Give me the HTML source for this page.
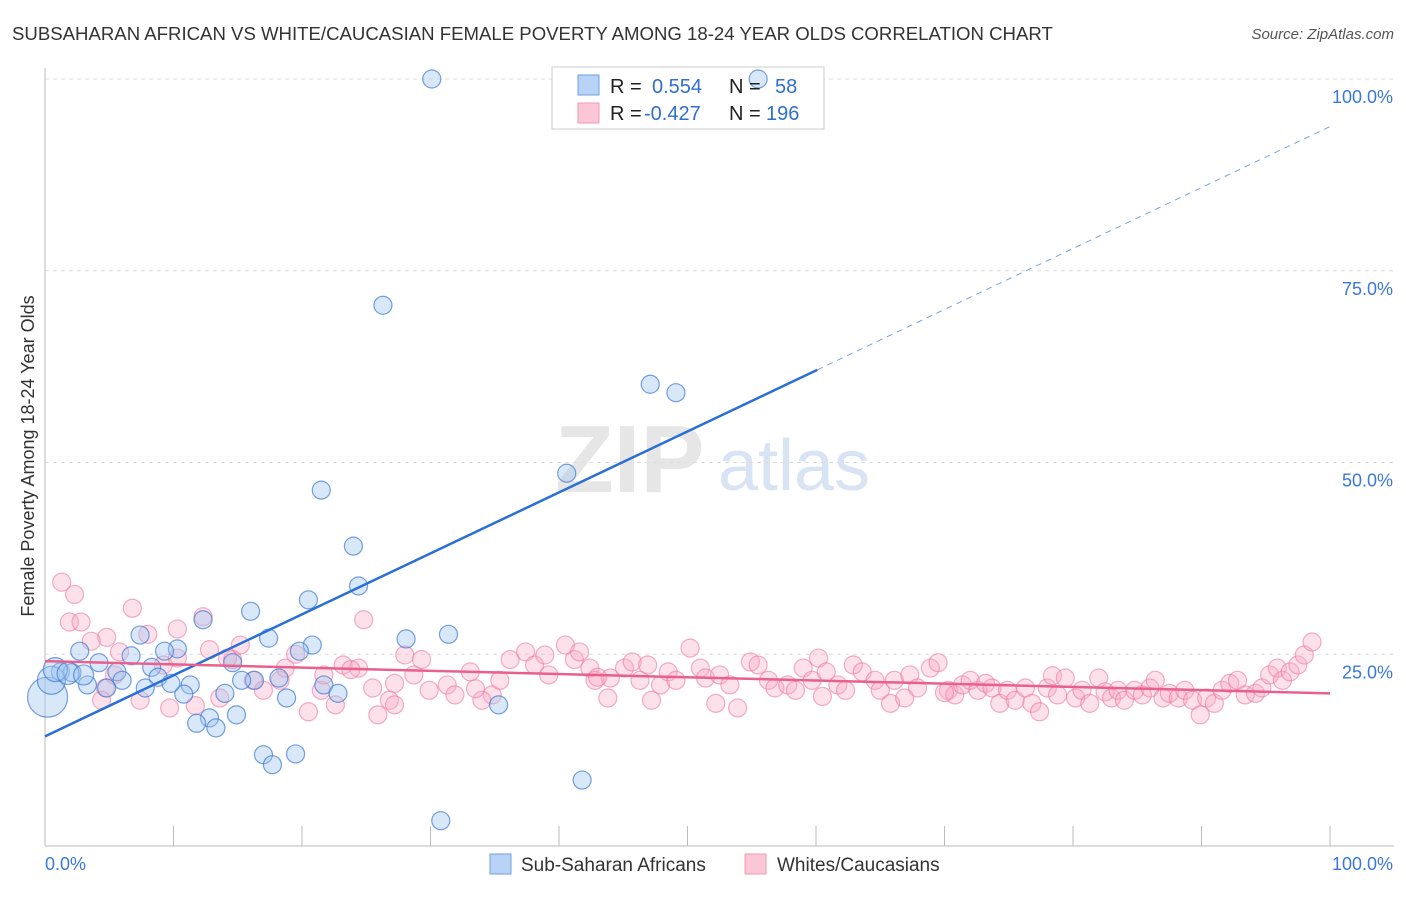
<!DOCTYPE html>
<html><head><meta charset="utf-8"><style>
body{margin:0;background:#fff;font-family:"Liberation Sans",sans-serif}
svg text{font-family:"Liberation Sans",sans-serif}
</style></head><body>
<svg id="chart" width="1406" height="892" viewBox="0 0 1406 892" xmlns="http://www.w3.org/2000/svg">
<text x="12" y="40" font-size="18.6" fill="#333">SUBSAHARAN AFRICAN VS WHITE/CAUCASIAN FEMALE POVERTY AMONG 18-24 YEAR OLDS CORRELATION CHART</text>
<text x="1394" y="39" font-size="15" fill="#555" font-style="italic" text-anchor="end">Source: ZipAtlas.com</text>
<text x="555" y="492" font-size="96" fill="#e6e6e6" font-family="Liberation Serif" font-weight="bold">ZIP</text>
<text x="718" y="490" font-size="72" fill="#d8e4f3">atlas</text>
<g id="grid"></g>
<g id="axes"></g>
<rect x="552" y="67" width="272" height="62" fill="#fff" stroke="#ccc"/>
<g id="pinkpts"></g>
<g id="bluepts"></g>
<g id="lines"></g>
<text transform="translate(34,456) rotate(-90)" font-size="18" fill="#333" text-anchor="middle">Female Poverty Among 18-24 Year Olds</text>
<g>
<rect x="578" y="75" width="21" height="20" fill="#b8d3f5" stroke="#6fa0e0"/>
<rect x="578" y="103" width="21" height="20" fill="#fbc6d6" stroke="#f29ab5"/>
<text x="610" y="93" font-size="20" fill="#222">R =</text>
<text x="652" y="93" font-size="20" fill="#2f6fd0">0.554</text>
<text x="729" y="93" font-size="20" fill="#222">N =</text>
<text x="775" y="93" font-size="20" fill="#2f6fd0">58</text>
<text x="610" y="120" font-size="20" fill="#222">R =</text>
<text x="644" y="120" font-size="20" fill="#2f6fd0">-0.427</text>
<text x="729" y="120" font-size="20" fill="#222">N =</text>
<text x="766" y="120" font-size="20" fill="#2f6fd0">196</text>
</g>
<g>
<rect x="490" y="854" width="21" height="20" fill="#b8d3f5" stroke="#6fa0e0"/>
<text x="521" y="871" font-size="19" fill="#333">Sub-Saharan Africans</text>
<rect x="745" y="854" width="21" height="20" fill="#fbc6d6" stroke="#f29ab5"/>
<text x="777" y="871" font-size="19" fill="#333">Whites/Caucasians</text>
</g>
</svg>
<script>
const yTicks=[25,50,75,100];
const yTickLabels=["25.0%","50.0%","75.0%","100.0%"];
const xTickLabels=["0.0%","100.0%"];
const blueX=[30.1,55.5,26.3,47.1,49.1,40.6,21.5,24.0,24.4,20.5,16.0,12.3,31.4,28.1,20.8,17.4,7.4,10.3,9.3,2.7,6.7,4.2,1.2,2.1,8.3,5.6,14.6,19.8,18.2,16.3,15.3,8.8,6.0,3.3,4.8,7.8,11.3,10.8,14.0,21.7,22.8,18.8,35.3,14.9,12.8,11.8,13.3,17.0,19.5,17.7,41.8,30.8,0.2,0.5,0.8,1.8,3.0,9.8];
const blueY=[100,100,70.5,60.2,59.1,48.6,46.4,39.1,33.9,32.1,30.6,29.5,27.6,27.0,26.2,27.1,27.5,25.7,25.4,25.4,24.8,23.9,22.7,22.6,23.3,22.7,23.9,25.4,21.9,21.6,21.6,22.0,21.6,21.0,20.6,20.6,21.0,19.8,19.9,21.0,19.9,19.3,18.4,17.1,16.7,16.0,15.4,11.9,12.0,10.6,8.6,3.3,19.4,21.6,23.0,22.5,22.3,21.2];
const blueR=[9,9,9,9,9,9,9,9,9,9,9,9,9,9,9,9,9,9,9,9,9,9,9,9,9,9,9,9,9,9,9,9,9,9,9,9,9,9,9,9,9,9,9,9,9,9,9,9,9,9,9,9,20,14,12,11,10,9];
const pinkX=[1.3,2.3,1.9,2.8,6.8,12.3,10.3,4.8,3.6,8.0,5.8,4.7,4.4,7.4,5.4,11.7,9.2,10.3,12.8,15.2,14.6,16.2,17.0,18.3,18.7,19.5,21.5,21.7,23.2,24.4,24.8,25.5,25.9,26.8,27.2,28.0,29.3,28.7,29.9,31.3,31.9,33.1,34.8,35.4,36.2,37.4,38.1,38.9,39.2,40.5,41.2,41.6,42.4,42.8,43.8,44.0,45.1,45.7,46.3,46.9,47.2,47.9,48.5,49.1,50.2,51.0,51.4,52.2,52.5,53.3,53.9,54.9,55.5,56.3,56.8,57.8,58.4,59.0,59.7,60.2,60.8,61.7,62.3,62.9,63.6,64.6,65.0,65.8,66.1,66.9,67.3,67.9,68.9,69.5,70.3,70.8,71.4,72.0,72.6,73.2,73.7,74.3,74.9,75.5,76.3,76.8,77.4,78.0,78.4,78.8,79.4,80.2,80.7,81.3,82.0,82.5,83.0,83.5,84.0,84.8,85.4,86.0,86.4,87.0,87.5,88.2,88.7,89.3,89.9,90.4,91.0,91.6,92.2,92.8,93.4,94.2,94.7,95.3,95.9,96.3,96.9,97.5,98.0,98.6,9.7,13.6,20.5,22.6,27.2,34.0,43.0,60.5,70.0,33.5,23.8,14.2];
const pinkY=[34.4,32.8,29.2,29.2,31.0,29.9,28.3,27.2,26.7,27.6,25.3,20.6,19.0,19.0,22.3,18.3,23.6,24.5,25.6,26.2,24.3,21.6,20.3,21.6,23.2,25.0,20.3,22.3,23.6,23.2,29.5,20.6,17.1,19.0,21.2,24.9,24.3,22.3,20.3,21.0,19.7,22.7,19.7,21.6,24.3,25.3,23.6,24.9,22.3,26.2,24.3,25.3,23.2,21.6,19.3,21.9,23.2,24.0,21.6,23.6,19.0,21.0,22.7,21.6,25.8,23.2,21.9,18.6,22.3,21.0,18.0,24.0,23.6,21.6,20.6,21.0,20.3,23.2,21.6,24.5,22.7,21.0,20.3,23.6,22.7,21.6,20.3,18.6,21.6,19.3,22.3,20.6,23.2,23.9,20.3,19.7,21.0,21.6,20.3,21.2,20.6,18.6,20.3,19.0,20.6,18.6,17.5,20.6,22.2,19.7,21.9,19.3,20.3,18.6,21.9,20.1,19.3,20.3,19.0,20.3,19.7,20.6,21.6,19.3,19.9,19.3,20.3,19.0,17.1,19.3,18.6,20.3,21.2,21.6,19.7,19.9,20.6,22.3,23.2,21.6,22.7,23.6,24.9,26.6,18.0,19.3,17.5,18.4,18.4,19.0,22.0,19.5,20.0,20.5,23.0,24.5];
const blueFit=[14.3,93.8];
const blueSolidEnd=60.1;
const pinkFit=[24.1,19.9];
const NS="http://www.w3.org/2000/svg";
const X0=45,X1=1330,Y0=846,Y100=79;
function sx(v){return X0+(X1-X0)*v/100;}
function sy(v){return Y0-(Y0-Y100)*v/100;}
function mk(tag,attrs,parent){const e=document.createElementNS(NS,tag);for(const k in attrs)e.setAttribute(k,attrs[k]);parent.appendChild(e);return e;}
const grid=document.getElementById('grid'),axes=document.getElementById('axes');
yTicks.forEach((t,i)=>{
 const l=mk('line',{x1:X0,x2:1394,y1:sy(t),y2:sy(t),stroke:'#ddd','stroke-dasharray':'4,4'},grid);
 
 
 const tx=mk('text',{x:1393,y:sy(t)+24,'font-size':18,fill:'#3b78d8','text-anchor':'end'},axes);
 tx.textContent=yTickLabels[i];
 
 
});
const ax=mk('line',{x1:X0,x2:1394,y1:Y0,y2:Y0,stroke:'#bbb'},axes);


const ay=mk('line',{x1:X0,x2:X0,y1:68,y2:Y0,stroke:'#bbb'},axes);


for(let i=1;i<=10;i++){
 const t=mk('line',{x1:sx(i*10),x2:sx(i*10),y1:Y0,y2:Y0-20,stroke:'#bbb'},axes);
 
 
}
const xl0=mk('text',{x:45,y:870,'font-size':18,fill:'#3b78d8'},axes);xl0.textContent=xTickLabels[0];


const xl1=mk('text',{x:1393,y:870,'font-size':18,fill:'#3b78d8','text-anchor':'end'},axes);xl1.textContent=xTickLabels[1];


const pg=document.getElementById('pinkpts');
pinkX.forEach((x,i)=>{
 const c=mk('circle',{cx:sx(x),cy:sy(pinkY[i]),r:9,fill:'rgba(248,170,195,0.35)',stroke:'rgba(236,120,160,0.6)','stroke-width':1.2},pg);
 
 
});
const bg=document.getElementById('bluepts');
blueX.forEach((x,i)=>{
 const c=mk('circle',{cx:sx(x),cy:sy(blueY[i]),r:blueR[i],fill:'rgba(160,198,240,0.4)',stroke:'rgba(60,120,210,0.7)','stroke-width':1.2},bg);
 
 
});
const lg=document.getElementById('lines');
const by=v=>blueFit[0]+(blueFit[1]-blueFit[0])*v/100;
const b1=mk('line',{x1:sx(0),y1:sy(by(0)),x2:sx(blueSolidEnd),y2:sy(by(blueSolidEnd)),stroke:'#2a6fd6','stroke-width':2.5},lg);


const b2=mk('line',{x1:sx(blueSolidEnd),y1:sy(by(blueSolidEnd)),x2:sx(100),y2:sy(by(100)),stroke:'#7aa5e0','stroke-width':1,'stroke-dasharray':'6,5'},lg);


const p1=mk('line',{x1:sx(0),y1:sy(pinkFit[0]),x2:sx(100),y2:sy(pinkFit[1]),stroke:'#e8608e','stroke-width':2.5},lg);


</script>
</body></html>
